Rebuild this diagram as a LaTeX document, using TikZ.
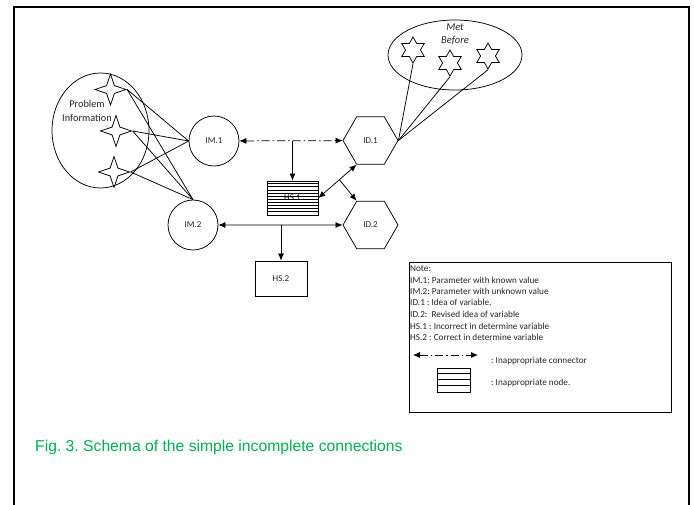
\documentclass[tikz,border=0pt]{standalone}
\usepackage{fontspec}
\setmainfont{Carlito}
\newfontfamily\capfont{Liberation Sans}
\usetikzlibrary{shapes.geometric,arrows.meta,calc}
\definecolor{capgreen}{RGB}{0,176,80}
\frenchspacing
\begin{document}
\begin{tikzpicture}[x=1pt,y=-1pt,
  every node/.style={inner sep=0pt, font=\fontsize{9}{11}\selectfont, text=black!85},
  ln/.style={line width=0.75pt, draw=black},
  circ/.style={circle, draw, line width=0.75pt, minimum size=50pt},
  hexa/.style={regular polygon, regular polygon sides=6, draw, line width=0.75pt, minimum size=55pt},
  fourstar/.style={star, star points=4, star point ratio=2.8, draw, line width=0.75pt, minimum size=31pt},
  sixstar/.style={star, star points=6, star point ratio=1.75, draw, line width=0.75pt, minimum size=26pt},
  boxnode/.style={rectangle, draw, line width=0.8pt},
  arr/.style={-{Latex[length=7pt,width=6pt]}},
  darr/.style={{Latex[length=7pt,width=6pt]}-{Latex[length=7pt,width=6pt]}},
  dashdot/.style={dash pattern=on 8pt off 3pt on 1.5pt off 3pt},
  notetext/.style={anchor=west, font=\fontsize{9.2}{11}\selectfont},
]
\useasboundingbox (0,0) rectangle (694,504);
\fill[white] (0,0) rectangle (694,504);
% outer frame
\draw[line width=2pt] (14,512) -- (14,7) -- (689,7) -- (689,512);

% Problem Information
\node[ellipse, draw, line width=0.75pt, minimum width=97pt, minimum height=115pt] (PI) at (100.5,130.5) {};
\node[fourstar] (S1) at (110.5,89.5) {};
\node[fourstar] (S2) at (116,131) {};
\node[fourstar] (S3) at (114,172) {};
\node[align=center, font=\fontsize{10.3}{14.5}\selectfont] (PIt) at (87,111) {Problem\\Information};

% Met Before
\node[ellipse, draw, line width=0.75pt, minimum width=134pt, minimum height=70pt] (MB) at (455,55) {};
\node[font=\itshape\fontsize{10.5}{12}\selectfont] (MBa) at (455,27) {Met};
\node[font=\itshape\fontsize{10.5}{12}\selectfont] (MBb) at (455,41) {Before};
\node[sixstar] (T1) at (413,50) {};
\node[sixstar] (T2) at (450,63) {};
\node[sixstar] (T3) at (488,56) {};

% main nodes
\node[circ] (IM1) at (214,141) {IM.1};
\node[circ] (IM2) at (193,225) {IM.2};
\node[hexa] (ID1) at (370.5,140.5) {ID.1};
\node[hexa] (ID2) at (370.5,225) {ID.2};
\node[boxnode, minimum width=51pt, minimum height=34pt] (HS1) at (292.5,198) {HS.1};
\foreach \k in {1,...,10}
  \draw[line width=0.7pt] ([yshift=-\k*3.1pt]HS1.north west) -- ([yshift=-\k*3.1pt]HS1.north east);
\node[boxnode, minimum width=52pt, minimum height=35pt] (HS2) at (281,278.5) {HS.2};

% star connectors
\foreach \s in {S1,S2,S3} {
  \draw[ln] (\s.east) -- (IM1.west);
  \draw[ln] (\s.east) -- (IM2.north);
}
\foreach \s in {T1,T2,T3}
  \draw[ln] (\s.south) -- (ID1.east);

% arrows
\draw[ln, dashdot, darr] (IM1) -- (ID1);
\coordinate (J1) at (292.5,141);
\draw[ln, arr] (J1) -- (HS1.north);
\draw[ln, darr] (HS1.east) -- (ID1.240);
\coordinate (J2) at ($(HS1.east)!0.55!(ID1.240)$);
\draw[ln, arr] (J2) -- (ID2.120);
\draw[ln, darr] (IM2) -- (ID2);
\coordinate (J3) at (281,225);
\draw[ln, arr] (J3) -- (HS2.north);

% note box
\node[rectangle, draw, line width=0.8pt, minimum width=262pt, minimum height=150pt] (NB) at (540,337) {};
\node[notetext] (n0) at (410,268.5) {Note:};
\node[notetext] (n1) at (410,280) {IM.1: Parameter with known value};
\node[notetext] (n2) at (410,291.5) {IM.2: Parameter with unknown value};
\node[notetext] (n3) at (410,303) {ID.1 : Idea of variable,};
\node[notetext] (n4) at (410,314.5) {ID.2:\ \ Revised idea of variable};
\node[notetext] (n5) at (410,326) {HS.1 : Incorrect in determine variable};
\node[notetext] (n6) at (410,337.5) {HS.2 : Correct in determine variable};
\coordinate (La) at (413,355);
\coordinate (Lb) at (478,355);
\draw[ln, dashdot, darr] (La) -- (Lb);
\node[notetext] (n7) at (491,361) {: Inappropriate connector};
\node[boxnode, minimum width=33pt, minimum height=24pt] (LB) at (454,380) {};
\foreach \k in {1,2,3}
  \draw[line width=0.7pt] ([yshift=-\k*6pt]LB.north west) -- ([yshift=-\k*6pt]LB.north east);
\node[notetext] (n8) at (491,383) {: Inappropriate node.};

% caption
\node[anchor=west, font=\capfont\fontsize{15.7}{18}\selectfont, text=capgreen] (cap) at (35,447) {Fig. 3. Schema of the simple incomplete connections};
\end{tikzpicture}
\end{document}
